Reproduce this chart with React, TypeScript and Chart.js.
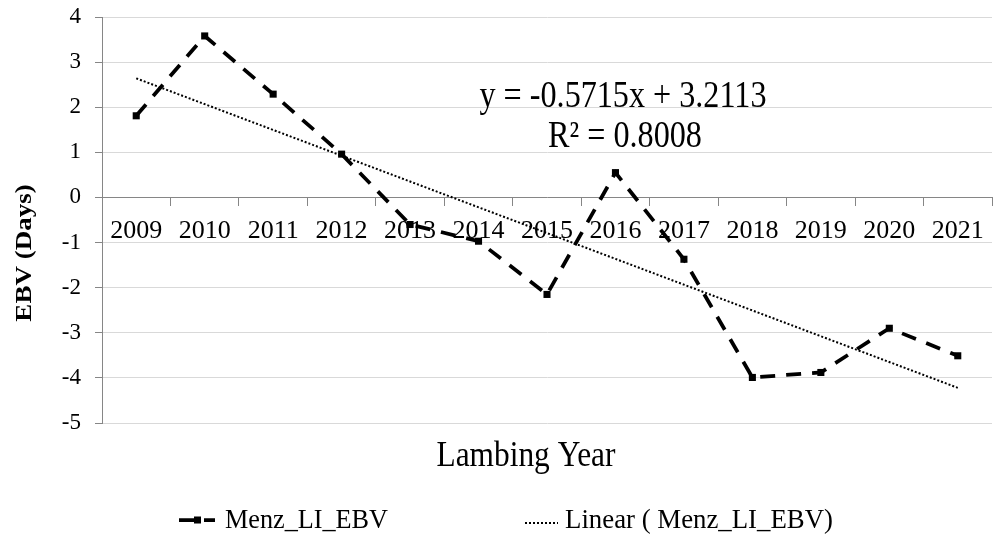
import React, { useEffect, useRef } from 'react';
import { Chart, registerables } from 'chart.js';

Chart.register(...registerables);

const years = ['2009', '2010', '2011', '2012', '2013', '2014', '2015', '2016', '2017', '2018', '2019', '2020', '2021'];
const ebvValues = [1.81, 3.58, 2.29, 0.96, -0.6, -0.97, -2.15, 0.55, -1.37, -3.99, -3.88, -2.9, -3.51];
// trendline end points (first and last year)
const trendValues: (number | null)[] = [2.64, null, null, null, null, null, null, null, null, null, null, null, -4.22];
const yMin = -5;
const yMax = 4;
const yStep = 1;

const seriesLabel = 'Menz_LI_EBV';
const trendLabel = 'Linear ( Menz_LI_EBV)';
const equationText = 'y = -0.5715x + 3.2113';
const r2Text = 'R\u00B2 = 0.8008';
const xTitle = 'Lambing Year';
const yTitle = 'EBV (Days)';

const FONT = "'Liberation Serif', 'Times New Roman', serif";
const AXIS = '#868686';
const GRID = '#d9d9d9';

function squeezedText(
  ctx: CanvasRenderingContext2D,
  text: string,
  x: number,
  y: number,
  size: number,
  sx: number,
  align: 'left' | 'center'
) {
  ctx.save();
  ctx.font = `${size}px ${FONT}`;
  ctx.fillStyle = '#000';
  ctx.textBaseline = 'alphabetic';
  ctx.textAlign = 'left';
  const w = ctx.measureText(text).width * sx;
  const left = align === 'center' ? x - w / 2 : x;
  ctx.translate(left, y);
  ctx.scale(sx, 1);
  ctx.fillText(text, 0, 0);
  ctx.restore();
}

function fitScale(ctx: CanvasRenderingContext2D, text: string, size: number, target: number) {
  ctx.save();
  ctx.font = `${size}px ${FONT}`;
  const w = ctx.measureText(text).width;
  ctx.restore();
  return target / w;
}

const overlayPlugin = {
  id: 'overlayText',
  afterDraw(chart: any) {
    const ctx: CanvasRenderingContext2D = chart.ctx;
    // y axis title (rotated)
    ctx.save();
    ctx.translate(25, 253);
    ctx.rotate(-Math.PI / 2);
    ctx.font = `bold 27px ${FONT}`;
    ctx.fillStyle = '#000';
    ctx.textAlign = 'center';
    ctx.textBaseline = 'middle';
    ctx.scale(1, 0.88);
    ctx.fillText(yTitle, 0, 0);
    ctx.restore();

    // equation + R²
    const eqSx = fitScale(ctx, equationText, 37, 287);
    squeezedText(ctx, equationText, 623, 107, 37, eqSx, 'center');
    squeezedText(ctx, r2Text, 625, 147, 37, eqSx, 'center');
    // x axis title
    const xtSx = fitScale(ctx, xTitle, 36, 179);
    squeezedText(ctx, xTitle, 526, 466, 36, xtSx, 'center');

    // legend
    const lgSx = fitScale(ctx, seriesLabel, 28, 163);
    const lg2Sx = fitScale(ctx, trendLabel, 28, 268);
    const ly = 520;
    ctx.save();
    ctx.strokeStyle = '#000';
    ctx.lineWidth = 3.75;
    ctx.setLineDash([16, 9]);
    ctx.beginPath();
    ctx.moveTo(179, ly);
    ctx.lineTo(215, ly);
    ctx.stroke();
    ctx.setLineDash([]);
    ctx.fillStyle = '#000';
    ctx.fillRect(194, ly - 3.5, 7, 7);
    ctx.restore();
    squeezedText(ctx, seriesLabel, 225, 528, 28, lgSx, 'left');

    ctx.save();
    ctx.strokeStyle = '#000';
    ctx.lineWidth = 2;
    ctx.setLineDash([2, 2]);
    ctx.beginPath();
    ctx.moveTo(525, 523);
    ctx.lineTo(558, 523);
    ctx.stroke();
    ctx.restore();
    squeezedText(ctx, trendLabel, 565, 528, 28, lg2Sx, 'left');
  },
};

export default function App() {
  const canvasRef = useRef<HTMLCanvasElement | null>(null);

  useEffect(() => {
    const canvas = canvasRef.current;
    if (!canvas) return;
    const chart = new Chart(canvas, {
      type: 'line',
      data: {
        labels: years,
        datasets: [
          {
            label: trendLabel,
            data: trendValues,
            borderColor: '#000',
            borderWidth: 2,
            borderDash: [2, 2],
            pointRadius: 0,
            spanGaps: true,
            fill: false,
            tension: 0,
            order: 0,
          },
          {
            label: seriesLabel,
            data: ebvValues,
            borderColor: '#000',
            borderWidth: 3.75,
            borderDash: [15, 11],
            pointStyle: 'rect',
            pointRadius: 5,
            pointBackgroundColor: '#000',
            pointBorderColor: '#000',
            pointBorderWidth: 0,
            fill: false,
            tension: 0,
            order: 1,
          },
        ],
      },
      options: {
        responsive: false,
        animation: false,
        events: [],
        layout: { padding: { top: 17, bottom: 116, left: 0, right: 0 } },
        plugins: {
          legend: { display: false },
          title: { display: false },
          tooltip: { enabled: false },
        },
        scales: {
          x: {
            type: 'category',
            position: { y: 0 } as any,
            offset: true,
            grid: {
              offset: true,
              drawOnChartArea: false,
              drawTicks: true,
              tickLength: 8,
              tickColor: AXIS,
              tickWidth: 1,
            },
            border: { display: true, color: AXIS, width: 1 },
            ticks: {
              color: '#000',
              font: { family: FONT, size: 26 },
              padding: 10,
              maxRotation: 0,
              autoSkip: false,
            },
            afterFit: (scale: any) => {
              scale.paddingTop = 0;
              scale.paddingBottom = 0;
              scale.paddingLeft = 0;
              scale.paddingRight = 0;
            },
          },
          y: {
            type: 'linear',
            min: yMin,
            max: yMax,
            ticks: {
              stepSize: yStep,
              color: '#000',
              font: { family: FONT, size: 23 },
              padding: 14,
            },
            grid: {
              color: GRID,
              lineWidth: 1,
              drawTicks: true,
              tickLength: 7,
              tickColor: AXIS,
            },
            border: { display: true, color: AXIS, width: 1 },
            title: { display: false },
            afterFit: (scale: any) => {
              scale.width = 102;
              scale.paddingTop = 0;
              scale.paddingBottom = 0;
            },
          },
        },
      },
      plugins: [overlayPlugin],
    });
    return () => chart.destroy();
  }, []);

  return (
    <div style={{ position: 'absolute', left: 0, top: 0, width: 997, height: 539, background: '#fff' }}>
      <canvas ref={canvasRef} width={997} height={539} style={{ display: 'block' }} />
    </div>
  );
}
